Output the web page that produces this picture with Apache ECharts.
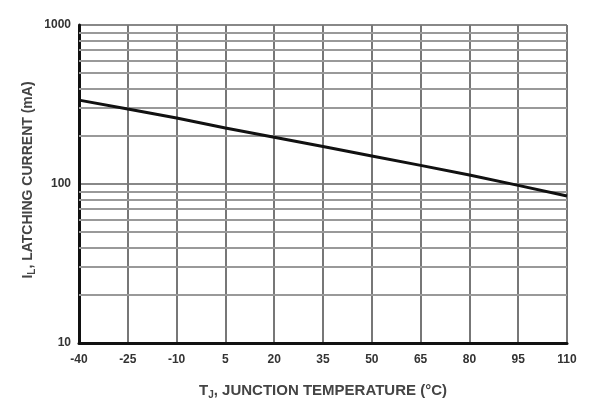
<!DOCTYPE html>
<html><head><meta charset="utf-8">
<script src="https://cdn.jsdelivr.net/npm/echarts@6/dist/echarts.min.js"></script>
<style>html,body{margin:0;padding:0;background:#fff}#c{width:592px;height:401px}</style>
</head><body><div id="c"></div>
<script>
const temps = ['-40','-25','-10','5','20','35','50','65','80','95','110'];
const latchCurrent = [337, 296, 260, 225, 197, 172, 150, 131, 114, 98, 84];
const minorLevels = [20,30,40,50,60,70,80,90,200,300,400,500,600,700,800,900];
const yTicks = [10, 100, 1000];

const chart = echarts.init(document.getElementById('c'));
const font = 'Liberation Sans';
chart.setOption({
  animation: false,
  grid: {left: 79, top: 25, right: 25, bottom: 58},
  xAxis: {
    type: 'category', data: temps, boundaryGap: false,
    axisLine: {lineStyle: {color: '#111', width: 3}},
    axisTick: {show: false},
    axisLabel: {color: '#333', fontFamily: font, fontSize: 12, fontWeight: 'bold', margin: 11},
    splitLine: {show: true, lineStyle: {color: '#777', width: 2}}
  },
  yAxis: {
    type: 'log', logBase: 10, min: 10, max: 1000,
    axisLine: {show: true, lineStyle: {color: '#111', width: 3}},
    axisTick: {show: false},
    axisLabel: {color: '#333', fontFamily: font, fontSize: 12, fontWeight: 'bold', margin: 8,
      formatter: v => yTicks.includes(Math.round(v)) ? String(Math.round(v)) : ''},
    splitLine: {show: true, lineStyle: {color: '#888', width: 2}}
  },
  series: [{
    type: 'line', data: latchCurrent, symbol: 'none',
    lineStyle: {color: '#111', width: 3},
    z: 5,
    markLine: {
      silent: true, symbol: 'none', label: {show: false},
      lineStyle: {color: '#999', width: 2, type: 'solid'},
      data: minorLevels.map(v => ({yAxis: v}))
    }
  }],
  graphic: [
    {type: 'text', x: 323, y: 391, style: {
      text: '{m|T}{s|J}{m|, JUNCTION TEMPERATURE (°C)}',
      align: 'center', verticalAlign: 'middle',
      rich: {m: {fontFamily: font, fontSize: 15, fontWeight: 'bold', fill: '#444'},
             s: {fontFamily: font, fontSize: 10, fontWeight: 'bold', fill: '#444', padding: [9,0,0,0]}}
    }},
    {type: 'text', x: 28, y: 180, rotation: Math.PI/2, style: {
      text: '{m|I}{s|L}{m|, LATCHING CURRENT (mA)}',
      align: 'center', verticalAlign: 'middle',
      rich: {m: {fontFamily: font, fontSize: 14, fontWeight: 'bold', fill: '#444'},
             s: {fontFamily: font, fontSize: 10, fontWeight: 'bold', fill: '#444', padding: [8,0,0,0]}}
    }}
  ]
});
</script></body></html>
